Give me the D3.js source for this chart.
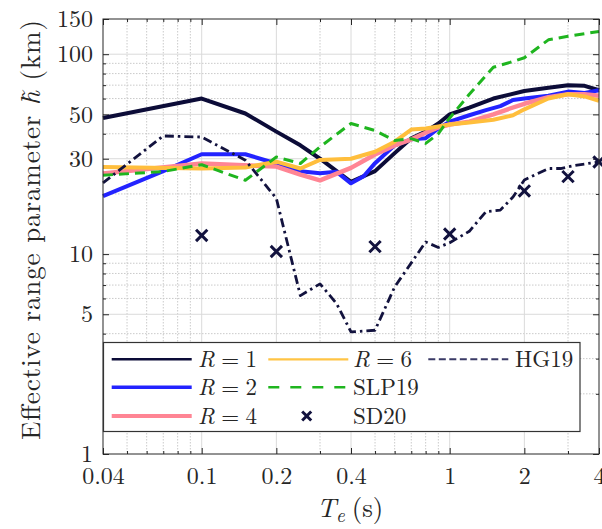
<!DOCTYPE html>
<html><head><meta charset="utf-8">
<script src="https://cdn.jsdelivr.net/npm/d3@7"></script>
<style>
body{margin:0;background:#fff}
</style>
</head><body>
<svg id="c" width="602" height="529"></svg>
<script>
// ---- data ----
const r1T = [0.04, 0.1, 0.15, 0.2, 0.25, 0.3, 0.4, 0.5, 0.6, 0.7, 0.8, 0.9, 1, 1.2, 1.5, 2, 2.5, 3, 3.5, 4];
const r1H = [48, 60, 50.5, 41, 35, 30, 23, 26, 32, 38, 41, 45, 50, 54, 60, 65.5, 68, 70, 69.5, 66];
const r2T = [0.04, 0.07, 0.1, 0.15, 0.2, 0.25, 0.3, 0.35, 0.4, 0.45, 0.5, 0.6, 0.7, 0.8, 0.9, 1, 1.2, 1.4, 1.6, 1.8, 2, 2.5, 3, 3.5, 4];
const r2H = [19.5, 26, 31.6, 31.6, 28.4, 26, 25.4, 25.8, 22.6, 24.5, 28.5, 35, 37.5, 38, 42.5, 46, 49.5, 52.5, 55, 59, 60, 62, 65, 64, 66];
const r4T = [0.04, 0.1, 0.2, 0.25, 0.3, 0.4, 0.5, 0.6, 0.7, 0.8, 0.9, 1, 1.2, 1.5, 1.75, 2, 2.5, 3, 3.5, 4];
const r4H = [25.3, 28.4, 27.4, 25, 23.4, 27, 31.5, 35, 37.5, 40.5, 43, 44.5, 46, 50, 53.5, 56.5, 61, 63, 63, 62];
const r6T = [0.04, 0.1, 0.15, 0.2, 0.25, 0.3, 0.4, 0.5, 0.6, 0.7, 0.8, 0.9, 1, 1.2, 1.5, 1.8, 2, 2.5, 3, 3.5, 4];
const r6H = [27.3, 26.8, 27.1, 29, 26.8, 29.6, 30, 32.5, 36.5, 42, 42.5, 43.5, 44.5, 45.5, 47, 49.5, 53, 60, 63, 61.5, 58.5];
const slpT = [0.04, 0.07, 0.1, 0.15, 0.2, 0.25, 0.3, 0.4, 0.5, 0.6, 0.7, 0.8, 0.9, 1, 1.2, 1.5, 1.75, 2, 2.5, 3, 4];
const slpH = [24.8, 25.9, 28, 23.4, 30.6, 28.4, 34.4, 45, 41.5, 37, 37.8, 35.8, 40, 48, 63, 86, 91, 96, 118, 123, 130];
const hgT = [0.04, 0.07, 0.1, 0.15, 0.2, 0.25, 0.3, 0.35, 0.4, 0.5, 0.6, 0.8, 0.9, 1, 1.2, 1.4, 1.6, 1.8, 2, 2.5, 2.8, 3.2, 4];
const hgH = [22.7, 39, 38.5, 29.5, 19, 6.2, 7.1, 5.65, 4.08, 4.16, 6.85, 11.5, 10.8, 11.4, 13, 16.3, 16.6, 19.3, 23.5, 26.8, 26.8, 27.8, 28.9];
const sdT = [0.1, 0.2, 0.5, 1, 2, 3, 4];
const sdH = [12.4, 10.3, 10.9, 12.6, 20.7, 24.4, 28.9];

const xTickVals = [0.04, 0.1, 0.2, 0.4, 1, 2, 4];
const xTickLabels = ["0.04", "0.1", "0.2", "0.4", "1", "2", "4"];
const xMinorVals = [0.05, 0.06, 0.07, 0.08, 0.09, 0.3, 0.5, 0.6, 0.7, 0.8, 0.9, 3];
const yTickVals = [1, 5, 10, 30, 50, 100, 150];
const yTickLabels = ["1", "5", "10", "30", "50", "100", "150"];
const yMinorVals = [2, 3, 4, 6, 7, 8, 9, 20, 40, 60, 70, 80, 90];
const seriesNames = ["R = 1", "R = 2", "R = 4", "R = 6", "SLP19", "SD20", "HG19"];

// ---- chart ----
const FONT = "'Latin Modern Roman'";
const INK = "#262626";
const svg = d3.select("#c");
const M = {l: 103, r: 599, t: 19, b: 454};
const x = d3.scaleLog().domain([0.04, 4]).range([M.l, M.r]);
const y = d3.scaleLog().domain([1, 150]).range([M.b, M.t]);
const zip = (a, b) => a.map((v, i) => [v, b[i]]);

// grid
const g = svg.append("g");
g.selectAll(".gxm").data(xMinorVals).join("line")
  .attr("x1", d => x(d)).attr("x2", d => x(d)).attr("y1", M.t).attr("y2", M.b)
  .attr("stroke", "#c4c4c4").attr("stroke-width", 0.9).attr("stroke-dasharray", "1.5,1.5");
g.selectAll(".gym").data(yMinorVals).join("line")
  .attr("y1", d => y(d)).attr("y2", d => y(d)).attr("x1", M.l).attr("x2", M.r)
  .attr("stroke", "#c4c4c4").attr("stroke-width", 0.9).attr("stroke-dasharray", "1.5,1.5");
g.selectAll(".gxM").data(xTickVals.slice(1, -1)).join("line")
  .attr("x1", d => x(d)).attr("x2", d => x(d)).attr("y1", M.t).attr("y2", M.b)
  .attr("stroke", "#dadada").attr("stroke-width", 1);
g.selectAll(".gyM").data(yTickVals.slice(1, -1)).join("line")
  .attr("y1", d => y(d)).attr("y2", d => y(d)).attr("x1", M.l).attr("x2", M.r)
  .attr("stroke", "#dadada").attr("stroke-width", 1);

// axes (ticks inward)
function styleAxis(sel) {
  sel.attr("font-family", null).attr("font-size", null);
  sel.select(".domain").remove();
  sel.selectAll(".tick line").attr("stroke", INK);
  sel.selectAll(".tick text").style("font-family", FONT).style("font-size", "24px").attr("fill", INK);
}
svg.append("g").attr("transform", `translate(0,${M.b})`)
  .call(d3.axisBottom(x).tickValues(xTickVals).tickFormat((d, i) => xTickLabels[i]).tickSize(-6).tickSizeOuter(0).tickPadding(13))
  .call(styleAxis);
svg.append("g").attr("transform", `translate(0,${M.b})`)
  .call(d3.axisBottom(x).tickValues(xMinorVals).tickFormat("").tickSize(-3).tickSizeOuter(0)).call(styleAxis);
svg.append("g").attr("transform", `translate(0,${M.t})`)
  .call(d3.axisTop(x).tickValues(xTickVals).tickFormat("").tickSize(-6).tickSizeOuter(0)).call(styleAxis);
svg.append("g").attr("transform", `translate(0,${M.t})`)
  .call(d3.axisTop(x).tickValues(xMinorVals).tickFormat("").tickSize(-3).tickSizeOuter(0)).call(styleAxis);
svg.append("g").attr("transform", `translate(${M.l},0)`)
  .call(d3.axisLeft(y).tickValues(yTickVals).tickFormat((d, i) => yTickLabels[i]).tickSize(-6).tickSizeOuter(0).tickPadding(10))
  .call(styleAxis);
svg.append("g").attr("transform", `translate(${M.l},0)`)
  .call(d3.axisLeft(y).tickValues(yMinorVals).tickFormat("").tickSize(-3).tickSizeOuter(0)).call(styleAxis);
svg.append("g").attr("transform", `translate(${M.r},0)`)
  .call(d3.axisRight(y).tickValues(yTickVals).tickFormat("").tickSize(-6).tickSizeOuter(0)).call(styleAxis);
svg.append("g").attr("transform", `translate(${M.r},0)`)
  .call(d3.axisRight(y).tickValues(yMinorVals).tickFormat("").tickSize(-3).tickSizeOuter(0)).call(styleAxis);

// series
const line = d3.line().x(d => x(d[0])).y(d => y(d[1]));
const series = [
  {name: seriesNames[0], data: zip(r1T, r1H), color: "#0c0c38", w: 4, dash: null},
  {name: seriesNames[1], data: zip(r2T, r2H), color: "#2323ff", w: 4, dash: null},
  {name: seriesNames[2], data: zip(r4T, r4H), color: "#ff8594", w: 4.5, dash: null},
  {name: seriesNames[3], data: zip(r6T, r6H), color: "#ffbe3c", w: 4, dash: null},
  {name: seriesNames[4], data: zip(slpT, slpH), color: "#1fb51f", w: 3, dash: "10,6"},
  {name: seriesNames[6], data: zip(hgT, hgH), color: "#12123e", w: 2.8, dash: "9,4,2.5,4"}
];
const plot = svg.append("g");
series.forEach(s => {
  plot.append("path").datum(s.data).attr("d", line)
    .attr("fill", "none").attr("stroke", s.color).attr("stroke-width", s.w)
    .attr("stroke-linejoin", "round").attr("stroke-dasharray", s.dash);
});
const xSym = d3.symbol().type(d3.symbolX).size(85);
plot.selectAll(".sd").data(zip(sdT, sdH)).join("path")
  .attr("transform", d => `translate(${x(d[0])},${y(d[1])})`)
  .attr("d", xSym).attr("stroke", "#12123e").attr("stroke-width", 3).attr("fill", "none");

// frame
svg.append("rect").attr("x", M.l).attr("y", M.t).attr("width", M.r - M.l).attr("height", M.b - M.t)
  .attr("fill", "none").attr("stroke", INK).attr("stroke-width", 1);

// legend
const lg = svg.append("g");
lg.append("rect").attr("x", 103.5).attr("y", 342.5).attr("width", 476.5).attr("height", 89)
  .attr("fill", "#fff").attr("stroke", "#333").attr("stroke-width", 1.2);
const colX = [[111.7, 191.7, 198], [268.3, 348.3, 353], [428.3, 508.3, 515]];
const rowY = [359.3, 387.3, 416];
const legItems = [
  {name: seriesNames[0], c: 0, r: 0, color: "#0c0c38", w: 2.5, dash: null, math: "1"},
  {name: seriesNames[1], c: 0, r: 1, color: "#2323ff", w: 3.5, dash: null, math: "2"},
  {name: seriesNames[2], c: 0, r: 2, color: "#ff8594", w: 4, dash: null, math: "4"},
  {name: seriesNames[3], c: 1, r: 0, color: "#ffc445", w: 2.2, dash: null, math: "6"},
  {name: seriesNames[4], c: 1, r: 1, color: "#1fb51f", w: 2.5, dash: "11,11", math: null},
  {name: seriesNames[5], c: 1, r: 2, color: "#12123e", w: 0, dash: null, math: null, marker: true},
  {name: seriesNames[6], c: 2, r: 0, color: "#3a3a66", w: 2, dash: "7,3.5", math: null}
];
legItems.forEach(it => {
  const [x1, x2, tx] = colX[it.c];
  const yy = rowY[it.r];
  if (it.marker) {
    lg.append("path").attr("transform", `translate(306.7,${yy})`).attr("d", d3.symbol().type(d3.symbolX).size(55))
      .attr("stroke", it.color).attr("stroke-width", 3).attr("fill", "none");
  } else {
    lg.append("line").attr("x1", x1).attr("x2", x2).attr("y1", yy).attr("y2", yy)
      .attr("stroke", it.color).attr("stroke-width", it.w).attr("stroke-dasharray", it.dash);
  }
  const t = lg.append("text").attr("x", tx).attr("y", yy + 8)
    .style("font-family", FONT).style("font-size", "23px").attr("fill", INK);
  if (it.math) {
    t.append("tspan").style("font-style", "italic").text("R");
    t.append("tspan").attr("dx", 6.4).text("=");
    t.append("tspan").attr("dx", 6.4).text(it.math);
  } else {
    t.text(it.name);
  }
});

// axis titles
const yt = svg.append("text").attr("transform", "translate(40,230) rotate(-90)")
  .attr("text-anchor", "middle").style("font-family", FONT).style("font-size", "27px").attr("fill", INK)
  .attr("textLength", 420).attr("lengthAdjust", "spacing");
yt.append("tspan").text("Effective range parameter ");
yt.append("tspan").style("font-style", "italic").text("h\u0303");
yt.append("tspan").text(" (km)");

const xt = svg.append("text").attr("x", 350).attr("y", 517).attr("text-anchor", "middle")
  .style("font-family", FONT).style("font-size", "27px").attr("fill", INK);
xt.append("tspan").style("font-style", "italic").text("T");
xt.append("tspan").style("font-style", "italic").style("font-size", "19px").attr("dy", 5).text("e");
xt.append("tspan").attr("dy", -5).attr("dx", 7).text("(s)");
</script>
</body></html>
